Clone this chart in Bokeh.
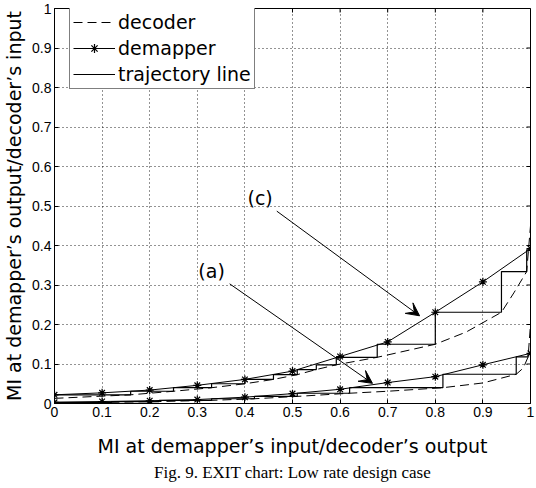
from bokeh.plotting import figure
from bokeh.models import (Range1d, Legend, LegendItem, Arrow, VeeHead,
                          Label, Title, FixedTicker)
from bokeh.embed import file_html
from bokeh.resources import INLINE

# ---------------- data ----------------
ticks = [0, 0.1, 0.2, 0.3, 0.4, 0.5, 0.6, 0.7, 0.8, 0.9, 1]
tick_labels = ["0", "0.1", "0.2", "0.3", "0.4", "0.5", "0.6", "0.7", "0.8", "0.9", "1"]

# demapper curves (stars), case (c) upper and case (a) lower
dem_x = [0, 0.1, 0.2, 0.3, 0.4, 0.5, 0.6, 0.7, 0.8, 0.9, 1.0]
dem_c_y = [0.022, 0.027, 0.034, 0.046, 0.061, 0.082, 0.119, 0.156, 0.231, 0.308, 0.392]
dem_a_y = [0.003, 0.005, 0.007, 0.010, 0.016, 0.025, 0.036, 0.053, 0.068, 0.098, 0.127]

# decoder curves (dashed, axes swapped)
dec_c_x = [0.0, 0.16, 0.25, 0.33, 0.40, 0.46, 0.51, 0.55, 0.592, 0.678, 0.8, 0.865, 0.939, 0.965, 0.992, 1.0, 1.0]
dec_c_y = [0.013, 0.022, 0.031, 0.040, 0.050, 0.061, 0.073, 0.086, 0.098, 0.117, 0.150, 0.181, 0.231, 0.28, 0.334, 0.45, 1.0]
dec_a_x = [0.0, 0.12, 0.22, 0.33, 0.42, 0.51, 0.62, 0.70, 0.816, 0.90, 0.97, 0.985, 0.995, 1.0, 1.0]
dec_a_y = [0.0, 0.003, 0.005, 0.008, 0.012, 0.018, 0.026, 0.031, 0.040, 0.052, 0.074, 0.09, 0.118, 0.2, 1.0]

# trajectories (staircases)
traj_c_x = [0, 0.16, 0.16, 0.25, 0.25, 0.33, 0.33, 0.40, 0.40, 0.46, 0.46, 0.51, 0.51, 0.55, 0.55,
            0.592, 0.592, 0.678, 0.678, 0.8, 0.8, 0.939, 0.939, 0.992, 0.992, 1.0, 1.0]
traj_c_y = [0.022, 0.022, 0.031, 0.031, 0.040, 0.040, 0.050, 0.050, 0.061, 0.061, 0.073, 0.073, 0.086, 0.086, 0.098,
            0.098, 0.117, 0.117, 0.150, 0.150, 0.231, 0.231, 0.334, 0.334, 0.389, 0.389, 0.392]
traj_a_x = [0, 0.12, 0.12, 0.22, 0.22, 0.33, 0.33, 0.42, 0.42, 0.51, 0.51, 0.62, 0.62, 0.816, 0.816,
            0.97, 0.97, 0.995, 0.995, 1.0]
traj_a_y = [0.003, 0.003, 0.005, 0.005, 0.008, 0.008, 0.012, 0.012, 0.018, 0.018, 0.026, 0.026, 0.040, 0.040, 0.074,
            0.074, 0.118, 0.118, 0.127, 0.127]

# annotations
note_text = ["(c)", "(a)"]
note_x = [0.432, 0.330]
note_y = [0.519, 0.336]
arrow_start_x = [0.467, 0.368]
arrow_start_y = [0.487, 0.303]
arrow_end_x = [0.767, 0.668]
arrow_end_y = [0.222, 0.051]

x_label = "MI at demapper\u2019s input/decoder\u2019s output"
y_label = "MI at demapper\u2019s output/decoder\u2019s input"
caption = "Fig. 9. EXIT chart: Low rate design case"

SANS = "DejaVu Sans"
TICKF = "Liberation Sans Narrow, Liberation Sans"

# ---------------- figure ----------------
FW, FH = 476, 395
p = figure(frame_width=FW, frame_height=FH, output_backend="svg", toolbar_location=None,
           x_range=Range1d(0, 1), y_range=Range1d(0, 1),
           min_border_left=44, min_border_right=8, min_border_top=8, min_border_bottom=0)
p.background_fill_color = "white"
p.outline_line_color = "black"
p.outline_line_width = 1

over = {t: s for t, s in zip(ticks, tick_labels)}
for ax in (p.xaxis[0], p.yaxis[0]):
    ax.ticker = FixedTicker(ticks=ticks)
    ax.major_label_overrides = over
    ax.major_tick_in = 4
    ax.major_tick_out = 0
    ax.minor_tick_line_color = None
    ax.axis_line_color = "black"
    ax.major_tick_line_color = "black"
    ax.major_label_text_font = TICKF
    ax.major_label_text_font_size = "14px"
    ax.major_label_text_color = "black"
    ax.axis_label_text_font = SANS
    ax.axis_label_text_font_size = "19px"
    ax.axis_label_text_font_style = "normal"
    ax.axis_label_text_color = "black"
p.xaxis[0].axis_label = x_label
p.yaxis[0].axis_label = y_label
p.xaxis[0].major_label_standoff = 3
p.yaxis[0].major_label_standoff = 3
p.xaxis[0].axis_label_standoff = 15
p.yaxis[0].axis_label_standoff = 4

for g in (p.xgrid[0], p.ygrid[0]):
    g.ticker = FixedTicker(ticks=ticks)
    g.grid_line_color = "black"
    g.grid_line_dash = "1 3"
    g.grid_line_width = 1
    g.grid_line_alpha = 0.85

# inward tick marks on the top and right edges (4 px long)
tx = 4.0 / FW
ty = 4.0 / FH
p.segment(x0=ticks, y0=[1] * len(ticks), x1=ticks, y1=[1 - ty] * len(ticks), line_color="black", line_width=1)
p.segment(x0=[1] * len(ticks), y0=ticks, x1=[1 - tx] * len(ticks), y1=ticks, line_color="black", line_width=1)

# decoder curves
dec_c = p.line(dec_c_x, dec_c_y, line_color="black", line_width=1, line_dash="9 5")
p.line(dec_a_x, dec_a_y, line_color="black", line_width=1, line_dash="9 5")
# demapper curves
dem_c_l = p.line(dem_x, dem_c_y, line_color="black", line_width=1)
dem_c_s = p.scatter(dem_x, dem_c_y, marker="asterisk", size=8, line_color="black", line_width=1.2)
p.line(dem_x, dem_a_y, line_color="black", line_width=1)
p.scatter(dem_x, dem_a_y, marker="asterisk", size=8, line_color="black", line_width=1.2)
# trajectories
traj_c = p.line(traj_c_x, traj_c_y, line_color="black", line_width=1.2)
p.line(traj_a_x, traj_a_y, line_color="black", line_width=1.2)

# annotations
for t, x, y in zip(note_text, note_x, note_y):
    p.add_layout(Label(x=x, y=y, text=t, text_align="center", text_baseline="middle",
                       text_font=SANS, text_font_size="19px", text_color="black"))
for xs, ys, xe, ye in zip(arrow_start_x, arrow_start_y, arrow_end_x, arrow_end_y):
    p.add_layout(Arrow(x_start=xs, y_start=ys, x_end=xe, y_end=ye, line_color="black", line_width=1,
                       end=VeeHead(size=13, fill_color="black", line_color="black", line_width=1)))

legend = Legend(items=[LegendItem(label="decoder", renderers=[dec_c]),
                       LegendItem(label="demapper", renderers=[dem_c_l, dem_c_s]),
                       LegendItem(label="trajectory line", renderers=[traj_c])],
                location=(15, FH - 1 - 80), orientation="vertical",
                border_line_color="black", border_line_width=1, background_fill_color="white",
                background_fill_alpha=1.0, label_text_font=SANS, label_text_font_size="19px",
                label_text_color="black", glyph_width=42, glyph_height=22, label_height=22,
                spacing=4, padding=3, margin=0, label_standoff=3)
p.add_layout(legend)

p.add_layout(Title(text=caption, align="center", text_font="Liberation Serif", text_font_size="17px",
                   text_font_style="normal", text_color="black", standoff=3, offset=0), "below")

open("out.html", "w").write(file_html(p, INLINE))
